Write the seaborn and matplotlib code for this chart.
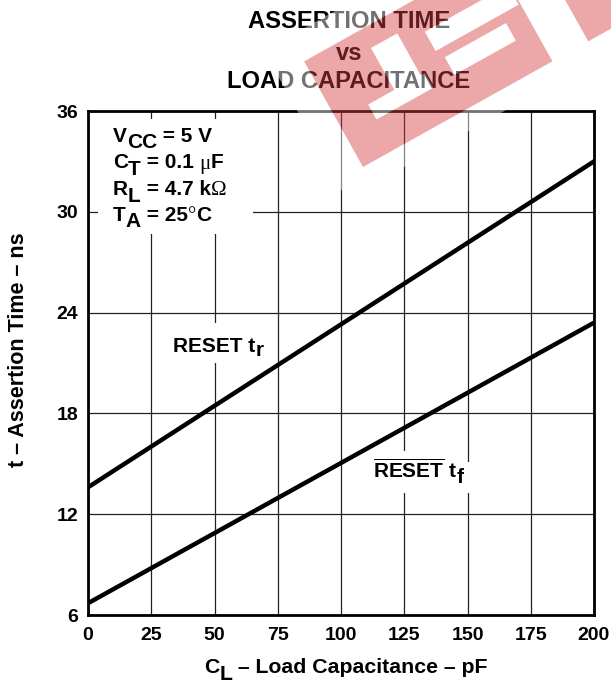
import numpy as np
import pandas as pd
import matplotlib.pyplot as plt
from matplotlib.path import Path
from matplotlib.patches import PathPatch, Rectangle
import seaborn as sns

# data
cap_pf = [0, 200]
t_rise_ns = [13.6, 33.0]
t_fall_ns = [6.7, 23.4]
x_ticks = [0, 25, 50, 75, 100, 125, 150, 175, 200]
y_ticks = [6, 12, 18, 24, 30, 36]
title_lines = ["ASSERTION TIME", "vs", "LOAD CAPACITANCE"]

sns.set_theme(style="white")
plt.rcParams["font.family"] = ["Liberation Sans", "DejaVu Sans"]
plt.rcParams["font.weight"] = "bold"
plt.rcParams["text.color"] = "black"
plt.rcParams["axes.labelcolor"] = "black"
plt.rcParams["xtick.color"] = "black"
plt.rcParams["ytick.color"] = "black"
plt.rcParams["mathtext.fontset"] = "custom"
plt.rcParams["mathtext.rm"] = "Liberation Sans:bold"
plt.rcParams["mathtext.bf"] = "Liberation Sans:bold"
plt.rcParams["mathtext.default"] = "rm"

W, H = 611, 688
fig = plt.figure(figsize=(W / 100, H / 100), dpi=100)
ax = fig.add_axes([88 / W, 73 / H, 506 / W, 504 / H])

df = pd.DataFrame({
    "cap": cap_pf * 2,
    "t": t_rise_ns + t_fall_ns,
    "series": ["rise"] * len(cap_pf) + ["fall"] * len(cap_pf),
})
sns.lineplot(data=df, x="cap", y="t", hue="series", palette=["black", "black"],
             linewidth=3.2, legend=False, ax=ax, zorder=4)

ax.set_xlim(0, 200)
ax.set_ylim(6, 36)
ax.set_xticks(x_ticks)
ax.set_yticks(y_ticks)
ax.grid(True, color="#222222", linewidth=0.9)
ax.tick_params(length=0, labelsize=14)
ax.tick_params(axis="x", pad=9)
ax.tick_params(axis="y", pad=7)
for lab in ax.get_xticklabels() + ax.get_yticklabels():
    lab.set_fontweight("bold")
for sp in ax.spines.values():
    sp.set_color("black")
    sp.set_linewidth(2)

ax.set_xlabel("")
ax.set_ylabel("t – Assertion Time – ns", fontsize=15.5, fontweight="bold")
ax.yaxis.label.set_ha("center")
ax.yaxis.label.set_va("center")
ax.yaxis.set_label_coords((18.5 - 88) / 506, (615 - 349.5) / 504)


def px_box(x0, y0, x1, y1):
    # white patch given in figure pixels (y down), placed in axes coords
    ax.add_patch(Rectangle(((x0 - 88) / 506, (615 - y1) / 504), (x1 - x0) / 506,
                           (y1 - y0) / 504, transform=ax.transAxes,
                           facecolor="white", edgecolor="none", zorder=2,
                           clip_on=False))


def chain(parts, x_px, base_px, size):
    # text pieces set one after another; subscripts are full size, just lowered
    prev = None
    for txt, drop, fam, wt in parts:
        y = H - base_px - drop
        if prev is None:
            prev = ax.annotate(txt, xy=(x_px, y), xycoords="figure pixels",
                               fontsize=size, family=fam, fontweight=wt,
                               ha="left", va="baseline", zorder=5)
        else:
            prev = ax.annotate(txt, xy=(1, y), xycoords=(prev, "figure pixels"),
                               fontsize=size, family=fam, fontweight=wt,
                               ha="left", va="baseline", zorder=5)
    return prev


SANS = ["Liberation Sans", "DejaVu Sans"]
SERIF = ["Liberation Serif", "DejaVu Serif"]
B, N = "bold", "normal"

# condition block (white box interrupts the grid)
px_box(98, 119, 253, 234)
chain([("V", 0, SANS, B), ("CC", 6, SANS, B), (" = 5 V", 0, SANS, B)], 113, 142, 15)
chain([("C", 0, SANS, B), ("T", 6.5, SANS, B), (" = 0.1 ", 0, SANS, B),
       ("μ", 0, SERIF, N), ("F", 0, SANS, B)], 113, 168.5, 15)
chain([("R", 0, SANS, B), ("L", 6.5, SANS, B), (" = 4.7 k", 0, SANS, B),
       ("Ω", 0, SERIF, N)], 113, 195, 15)
chain([("T", 0, SANS, B), ("A", 6, SANS, B), (" = 25", 0, SANS, B),
       ("°", 0, SERIF, N), ("C", 0, SANS, B)], 113, 221, 15)

# curve labels
px_box(166, 323, 262, 363)
chain([("RESET t", 0, SANS, B), ("r", 4.5, SANS, B)], 173, 352, 15)
px_box(366, 451, 449, 493)
px_box(449, 462, 481, 493)
chain([(r"$\overline{\mathrm{RESET}}$ t", 0, SANS, B), ("f", 5, SANS, B)], 373, 478, 15)

# x axis label, C with subscript L
chain([("C", 0, SANS, B), ("L", 7, SANS, B),
       (" – Load Capacitance – pF", 0, SANS, B)], 204, 673, 15.3)

# title
for txt, base in zip(title_lines, [28, 60, 88]):
    fig.text(349 / W, 1 - base / H, txt, fontsize=17.1, fontweight="bold",
             ha="center", va="baseline")

# watermark, in band coordinates (s along the band, t across it)
ux, uy = 0.873, -0.487
vx, vy = -0.487, -0.873


def band_pt(s, t):
    x = 363 + s * ux + t * vx
    y = 167 + s * uy + t * vy
    return (x / W, 1 - y / H)


def rect(s0, s1, t0, t1, ccw=True):
    pts = [(s0, t0), (s1, t0), (s1, t1), (s0, t1)]
    if not ccw:
        pts = pts[::-1]
    return [band_pt(s, t) for s, t in pts]


def make_path(polys):
    verts, codes = [], []
    for poly in polys:
        verts += poly + [poly[0]]
        codes += [Path.MOVETO] + [Path.LINETO] * (len(poly) - 1) + [Path.CLOSEPOLY]
    return Path(verts, codes)


piece1 = rect(0, 217, 0, 121)
piece2 = rect(258, 420, 0, 121)
slot_a = rect(120, 215, 66, 88, ccw=False)
slot_b = rect(125, 195, 36, 56, ccw=False)
slot_c = [band_pt(s, t) for s, t in [(35, 35), (35, 52), (65, 52), (65, 100),
                                     (95, 100), (95, 52), (100, 52), (100, 35)]]
halo_outer = rect(-30, 440, -20, 150)
halo = make_path([halo_outer, rect(0, 217, 0, 121, ccw=False),
                  rect(258, 420, 0, 121, ccw=False)])
fig.add_artist(PathPatch(halo, facecolor="white", edgecolor="none", alpha=0.45,
                         transform=fig.transFigure, zorder=10))
pink = make_path([piece1, slot_a, slot_b, slot_c, piece2])
fig.add_artist(PathPatch(pink, facecolor="#d73c41", edgecolor="none", alpha=0.45,
                         transform=fig.transFigure, zorder=11))
for poly in [slot_a, slot_b, slot_c]:
    fig.add_artist(PathPatch(make_path([poly]), facecolor="white", edgecolor="none",
                             alpha=0.45, transform=fig.transFigure, zorder=11))

fig.savefig("out.png", dpi=100)
